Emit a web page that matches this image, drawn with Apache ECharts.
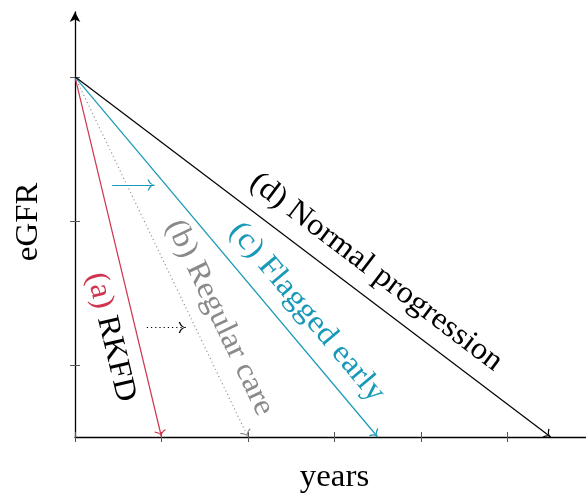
<!DOCTYPE html>
<html>
<head>
<meta charset="utf-8">
<script src="https://cdn.jsdelivr.net/npm/echarts@6/dist/echarts.min.js"></script>
<style>
  html, body { margin: 0; padding: 0; background: #fff; }
  #chart { width: 586px; height: 497px; }
</style>
</head>
<body>
<div id="chart"></div>
<script>
// Care pathways: eGFR declines from a common level to zero over different spans of years
const pathwayIds = ['(a)', '(b)', '(c)', '(d)'];
const pathwayNames = ['RKFD', 'Regular care', 'Flagged early', 'Normal progression'];
const startYear = 0;
const startEgfr = 2.5;
const endYears = [1, 2, 3.5, 5.5];
const endEgfr = [0, 0, 0, 0];

// Axis tick values
const xTicks = [0, 1, 2, 3, 4, 5, 6];
const yTicks = [0.5, 1.5, 2.5];

// Horizontal shift arrows between pathways
const shiftFromYear = [0.43, 0.83];
const shiftToYear = [0.92, 1.28];
const shiftEgfr = [1.75, 0.76];

// ---- styling ----
const FONT = '"Liberation Serif", "Times New Roman", serif';
const FS = 31;
const TEXT_STRETCH = 1.06;   // slightly wider glyphs
const RED = '#d1344f';
const GRAY = '#8a8a8a';
const TEAL = '#1899b8';
const BLACK = '#000000';
const lineColors = [RED, GRAY, TEAL, BLACK];
const lineTypes = ['solid', [1, 3], 'solid', 'solid'];
const idColors = [RED, GRAY, TEAL, BLACK];
const nameColors = [BLACK, GRAY, TEAL, BLACK];
const labelAt = [0.706, 0.7, 0.7, 0.6];   // fraction along each line
const labelSide = [-1, 1, 1, 1];          // -1 below the line, 1 above
const LABEL_GAP = 26;
const shiftColors = [TEAL, BLACK];
const shiftTypes = ['solid', [1.2, 3]];

const X_MAX = 6.2;
const Y_MAX = 2.95;
const X_UNIT = 86.5;   // pixels per year

// open "to" arrow head pointing up, tip at the centre of its box
const toArrow = 'path://M10 8 Q9 13 0 15 L0 16.6 Q9.4 14.6 10 10.2 Q10.6 14.6 20 16.6 L20 15 Q11 13 10 8 Z M10 0 L10.01 0 L10 0.01 Z';

const chart = echarts.init(document.getElementById('chart'), null, { renderer: 'canvas' });

function valueAxis(extra, max, ticks, inside, showLine) {
  return Object.assign({
    type: 'value',
    min: 0,
    max: max,
    axisLine: showLine ? {
      show: true,
      symbol: ['none', 'arrow'],
      symbolSize: [8, 10],
      lineStyle: { color: '#000', width: 1.3 }
    } : { show: false },
    axisTick: {
      show: true,
      inside: inside,
      length: 5,
      customValues: ticks,
      lineStyle: { color: '#555', width: 1 }
    },
    axisLabel: { show: false },
    splitLine: { show: false }
  }, extra);
}

function arrowLine(from, to, color, type) {
  return {
    type: 'line',
    data: [from],
    showSymbol: false,
    lineStyle: { width: 0 },
    silent: true,
    animation: false,
    markLine: {
      silent: true,
      animation: false,
      symbol: ['none', toArrow],
      symbolSize: [11, 14],
      label: { show: false },
      emphasis: { disabled: true },
      lineStyle: { color: color, width: 1.2, type: type },
      data: [[{ coord: from }, { coord: to }]]
    }
  };
}

const series = [];
pathwayNames.forEach(function (name, i) {
  series.push(arrowLine([startYear, startEgfr], [endYears[i], endEgfr[i]], lineColors[i], lineTypes[i]));
});
shiftFromYear.forEach(function (x0, i) {
  series.push(arrowLine([x0, shiftEgfr[i]], [shiftToYear[i], shiftEgfr[i]], shiftColors[i], shiftTypes[i]));
});

chart.setOption({
  animation: false,
  backgroundColor: '#fff',
  grid: {
    left: 75, width: X_MAX * X_UNIT, top: 12, bottom: 60,
    containLabel: false, outerBoundsMode: 'none'
  },
  xAxis: [
    valueAxis({ position: 'bottom' }, X_MAX, xTicks, true, true),
    valueAxis({ position: 'bottom' }, X_MAX, xTicks, false, false)
  ],
  yAxis: [
    valueAxis({ position: 'left' }, Y_MAX, yTicks, true, true),
    valueAxis({ position: 'left' }, Y_MAX, yTicks, false, false)
  ],
  series: series
});

// Sloped pathway labels and axis titles
const graphics = [];
pathwayNames.forEach(function (name, i) {
  const p0 = chart.convertToPixel({ xAxisIndex: 0, yAxisIndex: 0 }, [startYear, startEgfr]);
  const p1 = chart.convertToPixel({ xAxisIndex: 0, yAxisIndex: 0 }, [endYears[i], endEgfr[i]]);
  const dx = p1[0] - p0[0], dy = p1[1] - p0[1];
  const th = Math.atan2(dy, dx);
  const nx = Math.sin(th), ny = -Math.cos(th);
  const t = labelAt[i];
  const cx = p0[0] + t * dx + labelSide[i] * LABEL_GAP * nx;
  const cy = p0[1] + t * dy + labelSide[i] * LABEL_GAP * ny;
  graphics.push({
    type: 'text',
    x: cx,
    y: cy,
    rotation: -th,
    scaleX: TEXT_STRETCH,
    silent: true,
    style: {
      text: '{id|' + pathwayIds[i] + '} {nm|' + name + '}',
      align: 'center',
      verticalAlign: 'middle',
      fontFamily: FONT,
      fontSize: FS,
      rich: {
        id: { fill: idColors[i], fontFamily: FONT, fontSize: FS },
        nm: { fill: nameColors[i], fontFamily: FONT, fontSize: FS }
      }
    }
  });
});

const yTitlePos = chart.convertToPixel({ xAxisIndex: 0, yAxisIndex: 0 }, [0, 1.5]);
const xTitlePos = chart.convertToPixel({ xAxisIndex: 0, yAxisIndex: 0 }, [3, 0]);
graphics.push({
  type: 'text', x: 29, y: yTitlePos[1] + 1, rotation: Math.PI / 2, scaleX: TEXT_STRETCH, silent: true,
  style: { text: 'eGFR', align: 'center', verticalAlign: 'middle', fill: '#000', fontFamily: FONT, fontSize: FS }
});
graphics.push({
  type: 'text', x: xTitlePos[0], y: 478, scaleX: TEXT_STRETCH, silent: true,
  style: { text: 'years', align: 'center', verticalAlign: 'middle', fill: '#000', fontFamily: FONT, fontSize: FS }
});

chart.setOption({ graphic: graphics });
</script>
</body>
</html>
